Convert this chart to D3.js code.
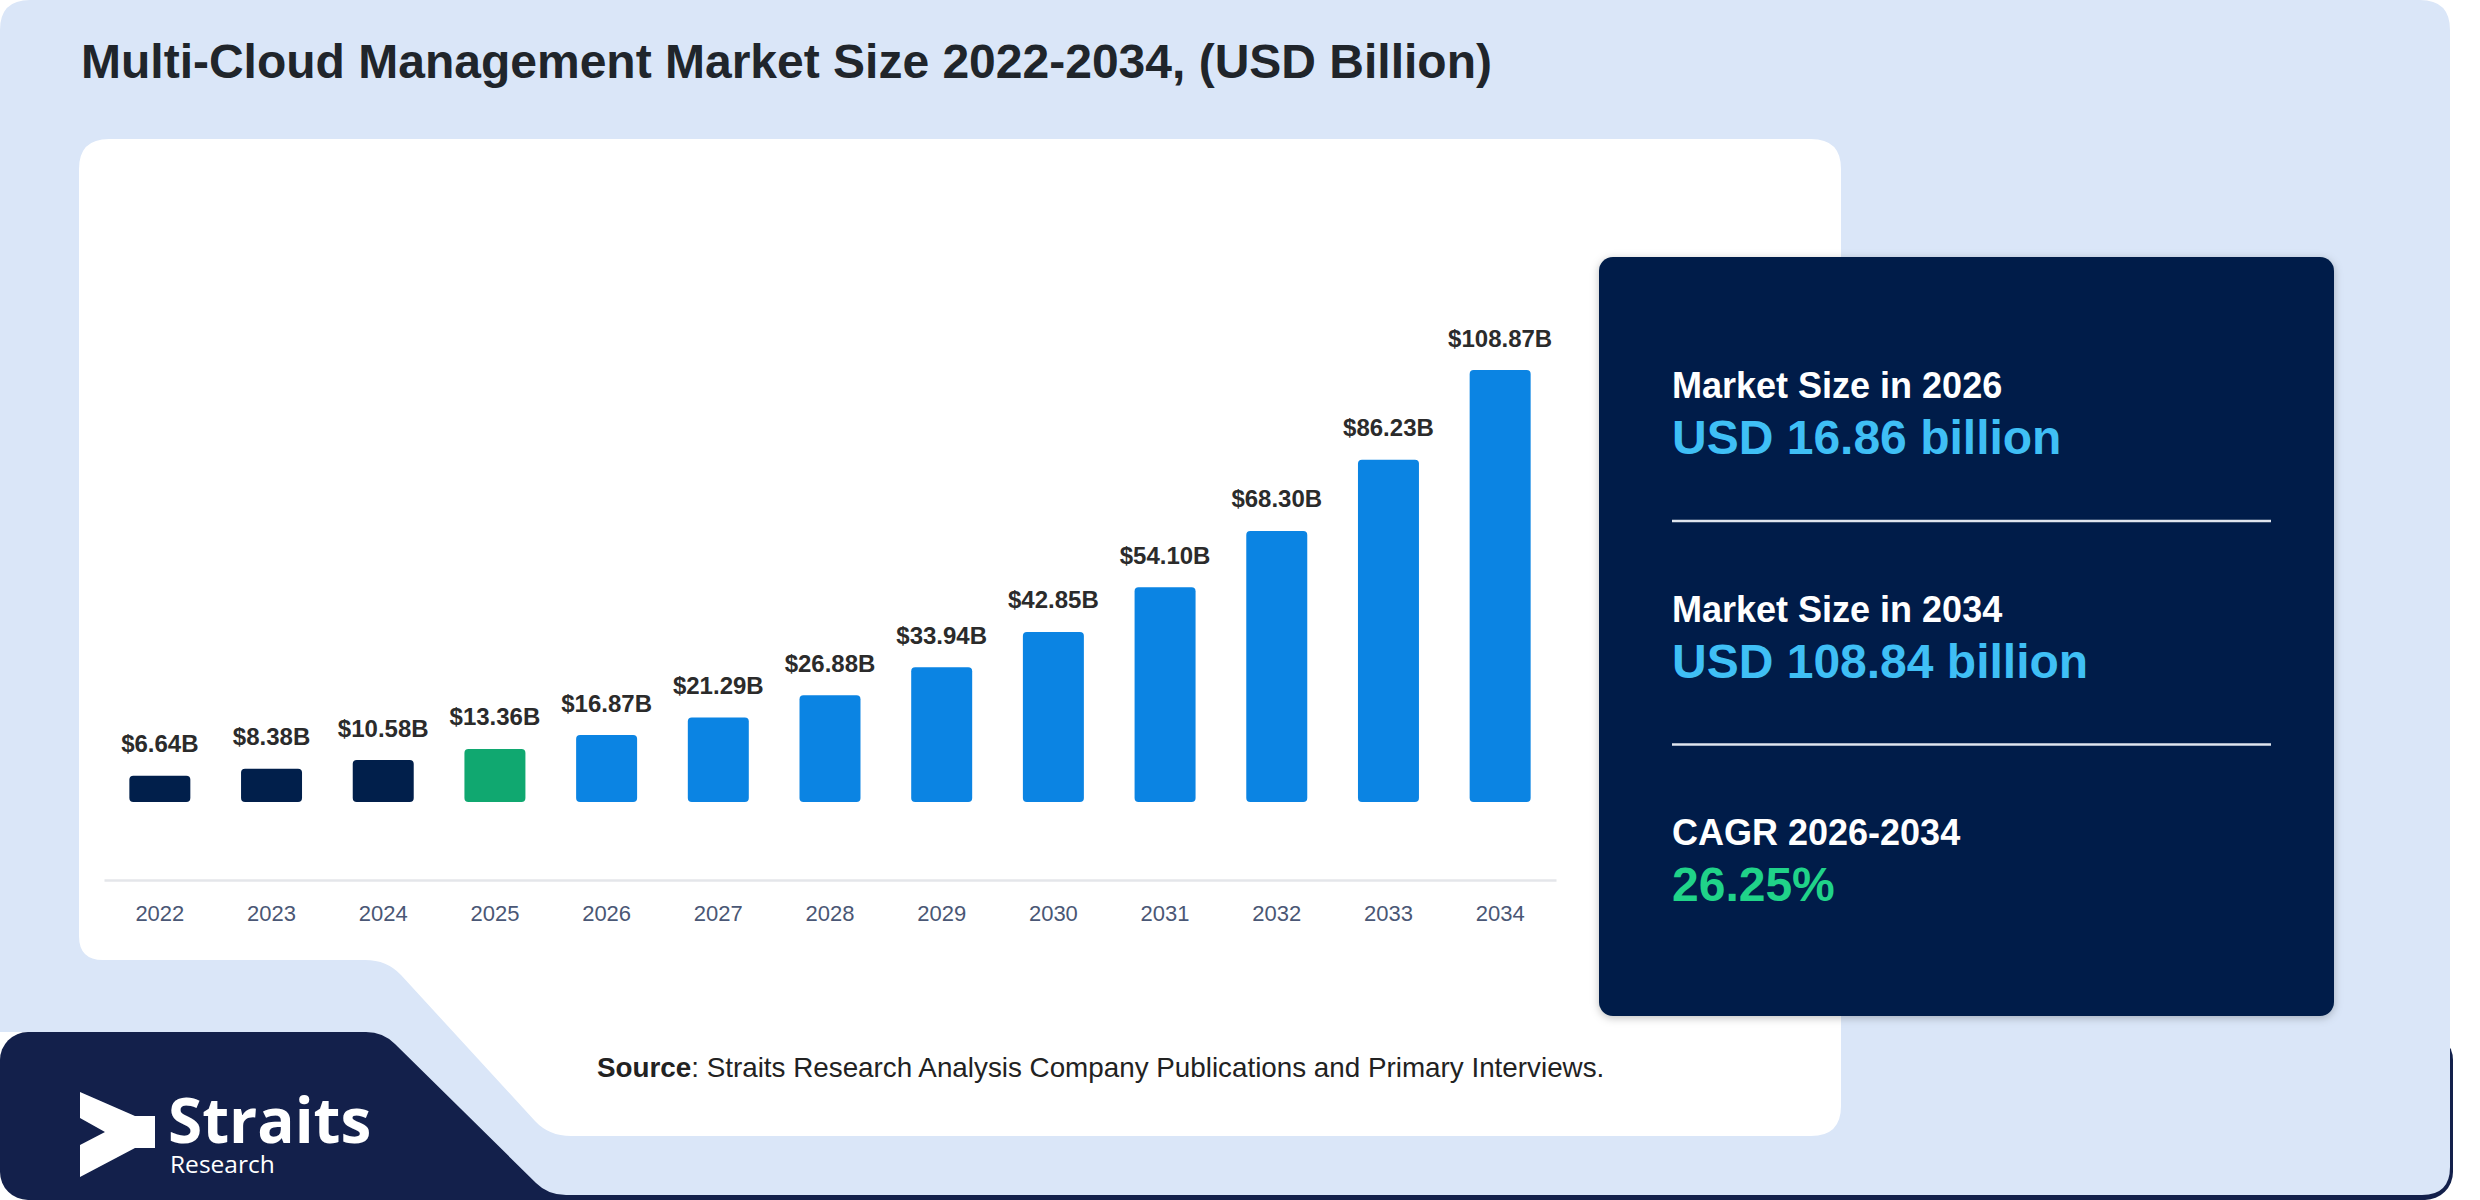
<!DOCTYPE html>
<html>
<head>
<meta charset="utf-8">
<script src="https://cdn.jsdelivr.net/npm/d3@7/dist/d3.min.js"></script>
<style>
  html, body { margin: 0; padding: 0; background: #ffffff; }
  svg { display: block; }
</style>
</head>
<body>
<div id="svgContainer"></div>
<script>
// chart values
var years = ["2022", "2023", "2024", "2025", "2026", "2027", "2028", "2029", "2030", "2031", "2032", "2033", "2034"];
var marketSize = [6.64, 8.38, 10.58, 13.36, 16.87, 21.29, 26.88, 33.94, 42.85, 54.10, 68.30, 86.23, 108.87];
var phase = ["hist", "hist", "hist", "base", "fcst", "fcst", "fcst", "fcst", "fcst", "fcst", "fcst", "fcst", "fcst"];

// side panel figures
var statLabels = ["Market Size in 2026", "Market Size in 2034", "CAGR 2026-2034"];
var statValues = ["USD 16.86 billion", "USD 108.84 billion", "26.25%"];

var title = "Multi-Cloud Management Market Size 2022-2034, (USD Billion)";
var width = 2480, height = 1200;
var font = "'Liberation Sans', Arial, sans-serif";

var phaseColor = d3.scaleOrdinal()
  .domain(["hist", "base", "fcst"])
  .range(["#011f4b", "#10a870", "#0b84e3"]);

var svg = d3.select("#svgContainer").append("svg")
  .attr("width", width).attr("height", height)
  .attr("font-family", font);

// navy strip behind the card (shows at the bottom-left notch)
svg.append("rect")
  .attr("x", 0).attr("y", 1032).attr("width", 2453).attr("height", 168)
  .attr("rx", 28).attr("fill", "#13204b");

// light blue outer card with the notch cut at bottom-left
svg.append("path")
  .attr("fill", "#dae6f8")
  .attr("d", "M30,0 H2420 Q2450,0 2450,30 V1167 Q2450,1195 2422,1195 H566 Q548,1195 536,1183 L395,1044 Q383,1032 366,1032 H0 V30 Q0,0 30,0 Z");

// white chart card
svg.append("path")
  .attr("fill", "#ffffff")
  .attr("d", "M109,139 H1811 Q1841,139 1841,169 V1106 Q1841,1136 1811,1136 H571 Q549,1136 535,1121 L401,975 Q387,960 365,960 H103 Q79,960 79,936 V169 Q79,139 109,139 Z");

svg.append("text")
  .attr("x", 81).attr("y", 78)
  .attr("font-size", 48).attr("font-weight", "bold")
  .attr("fill", "#20252b")
  .text(title);

// scales
var x = d3.scaleBand()
  .domain(years)
  .range([104, 1556])
  .paddingInner(0.454)
  .paddingOuter(0.227);

var y = d3.scaleLinear()
  .domain([0, 108.87])
  .range([802, 370]);

var rows = years.map((yr, i) => ({ year: yr, value: marketSize[i], phase: phase[i] }));

// baseline axis
var xAxis = svg.append("g")
  .attr("transform", "translate(0,880)")
  .call(d3.axisBottom(x).tickSize(0).tickPadding(41));
xAxis.select(".domain").attr("stroke", "#e4e6ea").attr("stroke-width", 2.5);
xAxis.selectAll("text")
  .attr("font-family", font)
  .attr("font-size", 22)
  .attr("fill", "#4a5775")
  .attr("dy", 0);

var barG = svg.append("g");
barG.selectAll("rect").data(rows).enter().append("rect")
  .attr("x", d => x(d.year))
  .attr("y", d => y(d.value))
  .attr("width", x.bandwidth())
  .attr("height", d => y(0) - y(d.value))
  .attr("rx", 4)
  .attr("fill", d => phaseColor(d.phase));

barG.selectAll("text").data(rows).enter().append("text")
  .attr("x", d => x(d.year) + x.bandwidth() / 2)
  .attr("y", d => y(d.value) - 23.5)
  .attr("text-anchor", "middle")
  .attr("font-size", 24).attr("font-weight", "bold")
  .attr("fill", "#2b2b2b")
  .text(d => "$" + d.value.toFixed(2) + "B");

// source line
var src = svg.append("text")
  .attr("x", 597).attr("y", 1077)
  .attr("font-size", 27.8).attr("fill", "#222222");
src.append("tspan").attr("font-weight", "bold").text("Source");
src.append("tspan").text(": Straits Research Analysis Company Publications and Primary Interviews.");

// side panel
svg.append("defs").append("filter").attr("id", "shadow")
  .attr("x", "-5%").attr("y", "-5%").attr("width", "110%").attr("height", "110%")
  .append("feDropShadow")
  .attr("dx", 0).attr("dy", 2).attr("stdDeviation", 4)
  .attr("flood-color", "#000").attr("flood-opacity", 0.25);

svg.append("rect")
  .attr("x", 1599).attr("y", 257).attr("width", 735).attr("height", 759)
  .attr("rx", 14).attr("fill", "#011e48")
  .attr("filter", "url(#shadow)");

var statG = svg.append("g").selectAll("g").data(statLabels).enter().append("g")
  .attr("transform", (d, i) => `translate(1672,${398 + i * 223.5})`);
statG.append("text")
  .attr("font-size", 36).attr("font-weight", "bold").attr("fill", "#ffffff")
  .text(d => d);
statG.append("text")
  .attr("y", 56)
  .attr("font-size", 48).attr("font-weight", "bold")
  .attr("fill", (d, i) => i === 2 ? "#20d389" : "#3fbff5")
  .text((d, i) => statValues[i]);
statG.filter((d, i) => i < 2).append("line")
  .attr("x1", 0).attr("x2", 599)
  .attr("y1", 123).attr("y2", 123)
  .attr("stroke", "#dfe5ee").attr("stroke-width", 2.5);

// logo
var logo = svg.append("g");
logo.append("polygon")
  .attr("fill", "#ffffff")
  .attr("points", "80,1092 135,1116 155,1116 155,1148 135,1148 80,1177 80,1145 105,1132 80,1118");
logo.append("text")
  .attr("x", 168).attr("y", 1143)
  .attr("font-family", "'Open Sans', 'Noto Sans', sans-serif")
  .attr("font-size", 62).attr("font-weight", "bold")
  .attr("fill", "#ffffff")
  .text("Straits");
logo.append("text")
  .attr("x", 170).attr("y", 1173)
  .attr("font-family", "'Open Sans', 'Noto Sans', sans-serif")
  .attr("font-size", 24.5)
  .attr("fill", "#ffffff")
  .text("Research");
</script>
</body>
</html>
